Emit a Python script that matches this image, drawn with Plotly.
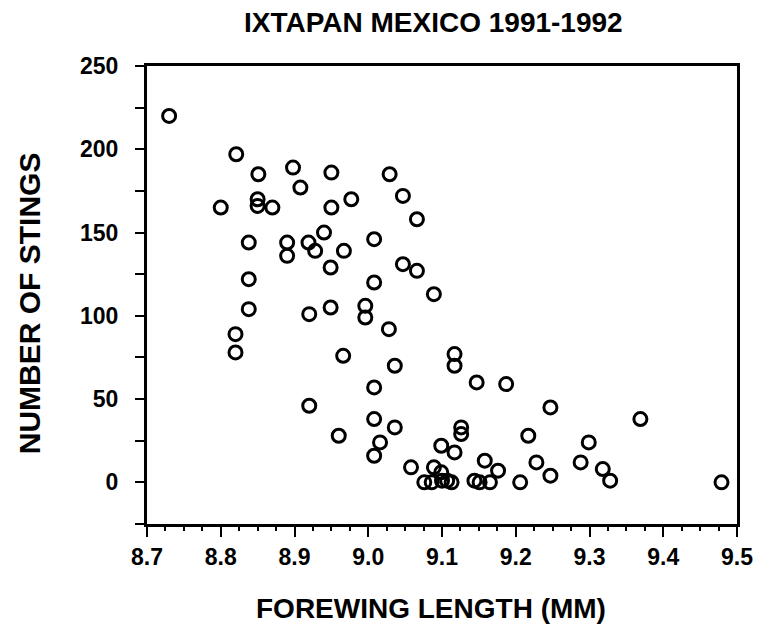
import plotly.graph_objects as go

forewing_mm = [
    8.730, 8.821, 8.851, 8.898, 8.950, 9.029, 9.047, 9.066, 8.908, 8.800,
    8.850, 8.850, 8.870, 8.950, 8.977, 8.940, 8.838, 8.890, 8.890, 8.919,
    8.928, 8.967, 9.008, 8.949, 9.047, 9.066, 8.838, 9.008, 9.089, 8.838,
    8.920, 8.949, 8.996, 8.996, 9.028, 8.820, 8.820, 8.966, 9.036, 9.117,
    9.117, 9.008, 9.147, 9.187, 8.920, 9.247, 9.008, 9.369, 9.036, 9.126,
    9.126, 8.960, 9.217, 9.016, 9.099, 9.299, 9.117, 9.008, 9.158, 9.228,
    9.288, 9.058, 9.089, 9.099, 9.176, 9.318, 9.247, 9.328, 9.076, 9.086,
    9.100, 9.107, 9.113, 9.144, 9.151, 9.165, 9.206, 9.479,
]
stings = [
    220, 197, 185, 189, 186, 185, 172, 158, 177, 165,
    170, 166, 165, 165, 170, 150, 144, 144, 136, 144,
    139, 139, 146, 129, 131, 127, 122, 120, 113, 104,
    101, 105, 106, 99, 92, 89, 78, 76, 70, 77,
    70, 57, 60, 59, 46, 45, 38, 38, 33, 33,
    29, 28, 28, 24, 22, 24, 18, 16, 13, 12,
    12, 9, 9, 6, 7, 8, 4, 1, 0, 0,
    1, 1, 0, 1, 0, 0, 0, 0,
]

title_text = "IXTAPAN MEXICO 1991-1992"
x_title = "FOREWING LENGTH (MM)"
y_title = "NUMBER OF STINGS"
x_ticks = [8.7, 8.8, 8.9, 9.0, 9.1, 9.2, 9.3, 9.4, 9.5]
y_ticks = [0, 50, 100, 150, 200, 250]

FONT = "Liberation Sans, Arial, Helvetica, sans-serif"

fig = go.Figure(go.Scatter(
    x=forewing_mm, y=stings, mode="markers",
    marker=dict(symbol="circle-open", size=13, color="black",
                line=dict(width=3, color="black")),
))

fig.update_layout(
    width=765, height=628,
    margin=dict(l=147, r=14, t=66, b=104),
    paper_bgcolor="white", plot_bgcolor="white",
    showlegend=False,
    font=dict(family=FONT, color="black"),
    annotations=[
        dict(text="<b>" + title_text + "</b>", xref="paper", yref="paper",
             x=0.486, y=1.0, yshift=44, showarrow=False,
             font=dict(size=28, family=FONT), xanchor="center", yanchor="middle"),
        dict(text="<b>" + x_title + "</b>", xref="paper", yref="paper",
             x=0.482, y=0.0, yshift=-84, showarrow=False,
             font=dict(size=28, family=FONT), xanchor="center", yanchor="middle"),
        dict(text="<b>" + y_title + "</b>", xref="paper", yref="paper",
             x=0.0, xshift=-118, y=0.482, showarrow=False, textangle=-90,
             font=dict(size=30, family=FONT), xanchor="center", yanchor="middle"),
    ],
)

fig.update_xaxes(
    range=[8.7, 9.5], tickvals=x_ticks, ticktext=[f"<b>{v:.1f}</b>" for v in x_ticks],
    ticks="outside", ticklen=10, tickwidth=2, tickcolor="black",
    minor=dict(dtick=0.025, tick0=8.7, ticks="outside", ticklen=4, tickwidth=1.5, tickcolor="black"),
    showline=True, linewidth=3, linecolor="black", mirror=True,
    showgrid=False, zeroline=False, ticklabeloverflow="allow",
    tickfont=dict(size=23, family=FONT),
)
fig.update_yaxes(
    range=[-25, 250], tickvals=y_ticks, ticktext=[f"<b>{v}</b>" for v in y_ticks],
    ticks="outside", ticklen=9, tickwidth=2, tickcolor="black",
    minor=dict(dtick=25, tick0=0, ticks="outside", ticklen=9, tickwidth=2, tickcolor="black"),
    showline=True, linewidth=3, linecolor="black", mirror=True,
    showgrid=False, zeroline=False, ticklabelstandoff=12,
    tickfont=dict(size=23, family=FONT),
)

fig.write_html("out.html")
